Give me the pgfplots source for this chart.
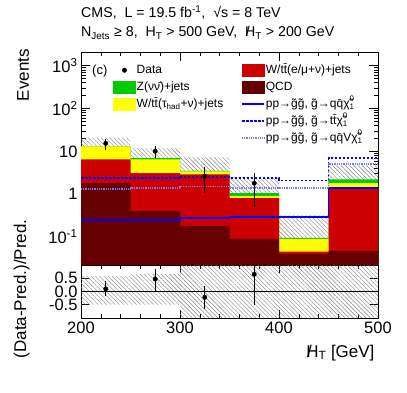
\documentclass[border=0pt]{standalone}
\usepackage{fontspec}
\setmainfont{Liberation Sans}
\usepackage{pgfplots}
\usepackage{pgfplotstable}
\pgfplotsset{compat=1.18}
\usepgfplotslibrary{fillbetween}
\usetikzlibrary{patterns.meta}

\definecolor{zgreen}{RGB}{0,204,0}
\definecolor{tauyellow}{RGB}{255,255,0}
\definecolor{lepred}{RGB}{204,0,0}
\definecolor{qcdred}{RGB}{102,0,0}
\definecolor{sigblue}{RGB}{0,0,255}
\definecolor{siglight}{RGB}{120,120,255}

\newcommand{\MHT}{\mbox{\rlap{\kern0.05em/}H}\textsubscript{T}}
\newcommand{\chiidx}{\rlap{\raisebox{0.15em}{\textsuperscript{0}}}\textsubscript{1}}

% background components per bin (last row repeats the last bin)
\pgfplotstableread{
x   qcd   wlep  wtau  znn
200 1.8   4.7   6.5   0.1
250 0.40  2.7   3.4   0.4
300 0.18  2.72  0.5   0.1
350 0.09  0.72  0.09  0.15
400 0.04  0.005 0.045 0.005
450 0.047 1.33  0.42  0.4
500 0.047 1.33  0.42  0.4
}\bkg

% total prediction uncertainty, upper panel and ratio panel
\pgfplotstableread{
x   up   lo    rup  rlo
200 21   6.5   0.58 -0.50
250 11.7 3.4   0.66 -0.50
300 7.2  0.15  1.5  -1.5
350 2.5  0.005 1.5  -1.5
400 0.32 0.005 1.5  -1.5
450 4.7  0.1   1.5  -1.5
500 4.7  0.1   1.5  -1.5
}\unc

% signal models
\pgfplotstableread{
x   qq   tt   qqv
200 0.25 2.35 1.30
250 0.25 2.35 1.38
300 0.28 2.5  1.50
350 0.29 2.35 1.38
400 0.29 2.1  1.38
450 1.38 6.9  5.0
500 1.38 6.9  5.0
}\sig

\pgfplotstableread{
x   y    eup edn  r     rup  rdn
225 15.4 3.6 4.4  0.10  0.30 0.28
275 10.0 3.0 3.1  0.47  0.38 0.44
325 2.6  1.6 1.55 -0.22 0.42 0.43
375 1.8  1.3 1.3  0.65  0.55 1.15
}\data

\pgfplotsset{
  cmsaxis/.style={
    scale only axis, width=297pt, anchor=south west,
    xmin=200, xmax=500,
    xtick={200,300,400,500}, minor x tick num=4,
    tick align=inside, xtick pos=both, ytick pos=both,
    axis line style={line width=0.8pt},
    every tick/.style={black, line width=0.6pt},
    tick label style={font=\fontsize{16.5}{18}\selectfont},
    yticklabel style={inner ysep=0pt},
    label style={font=\fontsize{17}{19}\selectfont},
  },
  hatch/.style={draw=none, pattern={Lines[angle=-45,distance=3pt,line width=0.4pt]}, pattern color=gray},
  lineimg/.style={legend image code/.code={\draw[##1] (0pt,0pt) -- (22pt,0pt);}},
  boximg/.style={legend image code/.code={\fill[#1] (0pt,-6pt) rectangle (22pt,6pt);}},
}

\begin{document}
\begin{tikzpicture}
\path (0,0) rectangle (407pt,393pt);

\node[anchor=base west, inner sep=0pt, font=\fontsize{14.2}{16}\selectfont] at (81pt,375pt)
  {CMS,\ \ L = 19.5 fb\textsuperscript{-1},\ \ √s = 8 TeV};
\node[anchor=base west, inner sep=0pt, font=\fontsize{14.2}{16}\selectfont] at (81pt,356pt)
  {N\textsubscript{Jets} ≥ 8,\ \ H\textsubscript{T} > 500 GeV,\ \ \MHT\ > 200 GeV};

% ---------------- upper panel
\begin{axis}[cmsaxis,
  at={(81pt,128pt)}, height=213pt,
  ymode=log, ymin=0.022, ymax=2100,
  major tick length=9pt, minor tick length=4.5pt,
  xticklabels={},
  ytick={0.1,1,10,100,1000},
  yticklabels={10\textsuperscript{-1},1,10,10\textsuperscript{2},10\textsuperscript{3}},
  ylabel={Events},
  ylabel style={at={(axis description cs:-0.195,1.03)}, anchor=east},
  legend columns=2,
  legend cell align=left,
  legend style={at={(axis description cs:0.108,0.955)}, anchor=north west,
    draw=none, fill=none, inner sep=0pt, row sep=0pt,
    font=\fontsize{12}{14}\selectfont,
    nodes={inner sep=1pt, text height=10.5pt, text depth=4.5pt},
    /tikz/every even column/.append style={column sep=17pt}},
]
\addplot[const plot, fill=zgreen, draw=none, forget plot] table[x=x, y expr=\thisrow{qcd}+\thisrow{wlep}+\thisrow{wtau}+\thisrow{znn}]{\bkg}
  -- (axis cs:500,0.001) -- (axis cs:200,0.001) -- cycle;
\addplot[const plot, fill=tauyellow, draw=none, forget plot] table[x=x, y expr=\thisrow{qcd}+\thisrow{wlep}+\thisrow{wtau}]{\bkg}
  -- (axis cs:500,0.001) -- (axis cs:200,0.001) -- cycle;
\addplot[const plot, fill=lepred, draw=none, forget plot] table[x=x, y expr=\thisrow{qcd}+\thisrow{wlep}]{\bkg}
  -- (axis cs:500,0.001) -- (axis cs:200,0.001) -- cycle;
\addplot[const plot, fill=qcdred, draw=none, forget plot] table[x=x, y=qcd]{\bkg}
  -- (axis cs:500,0.001) -- (axis cs:200,0.001) -- cycle;

\addplot[const plot, draw=none, name path=uup, forget plot] table[x=x, y=up]{\unc};
\addplot[const plot, draw=none, name path=ulo, forget plot] table[x=x, y=lo]{\unc};
\addplot[hatch, forget plot] fill between[of=uup and ulo];

\addplot[const plot, sigblue, line width=1.6pt, forget plot] table[x=x, y=qq]{\sig};
\addplot[const plot, sigblue, line width=1.6pt, dash pattern=on 2.5pt off 1.5pt, forget plot] table[x=x, y=tt]{\sig};
\addplot[const plot, siglight, line width=1.6pt, dash pattern=on 1pt off 0.8pt, forget plot] table[x=x, y=qqv]{\sig};

\addplot[only marks, mark=*, mark size=2.2pt, black, forget plot,
  error bars/.cd, y dir=both, y explicit, error mark=none,
  error bar style={line width=1pt, black}]
  table[x=x, y=y, y error plus=eup, y error minus=edn]{\data};

\addlegendimage{legend image code/.code={\fill[black] (11pt,0pt) circle (2.2pt);}}
\addlegendentry{Data}
\addlegendimage{boximg=lepred}
\addlegendentry{W/t\={t}(e/μ+ν)+jets}
\addlegendimage{boximg=zgreen}
\addlegendentry{Z(ν\={ν})+jets}
\addlegendimage{boximg=qcdred}
\addlegendentry{QCD}
\addlegendimage{boximg=tauyellow}
\addlegendentry{W/t\={t}(τ\textsubscript{had}+ν)+jets}
\addlegendimage{lineimg, sigblue, line width=1.6pt}
\addlegendentry{pp→\~{g}\~{g}, \~{g}→q\={q}\~{χ}\chiidx}
\addlegendimage{empty legend}
\addlegendentry{}
\addlegendimage{lineimg, sigblue, line width=1.6pt, dash pattern=on 2.5pt off 1.5pt}
\addlegendentry{pp→\~{g}\~{g}, \~{g}→t\={t}\~{χ}\chiidx}
\addlegendimage{empty legend}
\addlegendentry{}
\addlegendimage{lineimg, siglight, line width=1.6pt, dash pattern=on 1pt off 0.8pt}
\addlegendentry{pp→\~{g}\~{g}, \~{g}→q\={q}V\~{χ}\chiidx}

\node[anchor=base west, inner sep=0pt, font=\fontsize{13}{15}\selectfont]
  at (axis description cs:0.037,0.894) {(c)};
\end{axis}

% ---------------- ratio panel
\begin{axis}[cmsaxis,
  at={(81pt,75pt)}, height=53pt,
  ymin=-1, ymax=1,
  major tick length=8pt, minor tick length=4pt,
  ytick={-0.5,0,0.5},
  yticklabels={-0.5,0.0,0.5},
  xticklabels={200,300,400,500},
  ylabel={(Data-Pred.)/Pred.},
  ylabel style={at={(axis description cs:-0.2,0.55)}, anchor=center},
  xlabel={\MHT\ [GeV]},
  xlabel style={at={(axis description cs:1,-0.74)}, anchor=base east},
]
\addplot[const plot, draw=none, name path=rup] table[x=x, y=rup]{\unc};
\addplot[const plot, draw=none, name path=rlo] table[x=x, y=rlo]{\unc};
\addplot[hatch] fill between[of=rup and rlo];
\addplot[black, line width=0.5pt] coordinates {(200,0) (500,0)};
\addplot[only marks, mark=*, mark size=2.2pt, black,
  error bars/.cd, y dir=both, y explicit, error mark=none,
  error bar style={line width=1pt, black}]
  table[x=x, y=r, y error plus=rup, y error minus=rdn]{\data};
\end{axis}
\end{tikzpicture}
\end{document}
